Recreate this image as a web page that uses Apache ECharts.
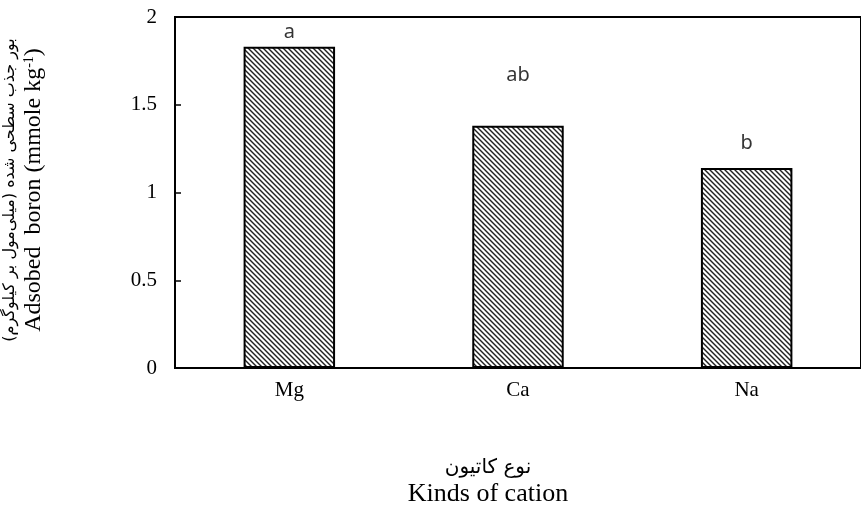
<!DOCTYPE html>
<html>
<head>
<meta charset="utf-8">
<script src="https://cdn.jsdelivr.net/npm/echarts@6/dist/echarts.min.js"></script>
<style>html,body{margin:0;padding:0;background:#fff}#c{width:861px;height:512px}</style>
</head>
<body>
<div id="c"></div>
<script>
var categories = ['Mg', 'Ca', 'Na'];
var values = [1.83, 1.38, 1.14];
var letters = ['a', 'ab', 'b'];
var letterLevels = [1.915, 1.67, 1.28];
var yTicks = [0, 0.5, 1, 1.5, 2];

function hatch() {
  var s = 5;
  var cv = document.createElement('canvas');
  cv.width = s; cv.height = s;
  var ctx = cv.getContext('2d');
  ctx.fillStyle = '#fff';
  ctx.fillRect(0, 0, s, s);
  ctx.strokeStyle = '#222';
  ctx.lineWidth = 1.4;
  for (var k = -1; k <= 1; k++) {
    ctx.beginPath();
    ctx.moveTo(k * s - 1, -1);
    ctx.lineTo(k * s + s + 1, s + 1);
    ctx.stroke();
  }
  return cv;
}

var chart = echarts.init(document.getElementById('c'), null, {renderer: 'canvas'});
var serif = '"Liberation Serif", "Times New Roman", serif';
chart.setOption({
  animation: false,
  grid: {left: 175, top: 17, right: -13, bottom: 144, show: true, borderColor: '#000', borderWidth: 2},
  xAxis: {
    type: 'category', data: categories,
    axisLine: {lineStyle: {color: '#000', width: 2}},
    axisTick: {show: false},
    axisLabel: {color: '#000', fontFamily: serif, fontSize: 21, margin: 12}
  },
  yAxis: {
    type: 'value', min: yTicks[0], max: yTicks[yTicks.length - 1], interval: 0.5,
    axisLine: {show: true, lineStyle: {color: '#000', width: 2}},
    axisTick: {show: true, inside: true, length: 6, lineStyle: {color: '#000', width: 1.5}},
    splitLine: {show: false},
    axisLabel: {color: '#000', fontFamily: serif, fontSize: 21, margin: 18}
  },
  series: [{
    type: 'bar', data: values, barWidth: '40%',
    itemStyle: {color: {image: hatch(), repeat: 'repeat'}, borderColor: '#000', borderWidth: 2}
  }, {
    type: 'scatter', data: letterLevels, symbolSize: 2, itemStyle: {color: 'rgba(0,0,0,0)'},
    label: {
      show: true, position: 'inside', color: '#000',
      fontFamily: '"Noto Sans", Lato, sans-serif', fontSize: 20,
      formatter: function (p) { return letters[p.dataIndex]; }
    }
  }],
  graphic: [
    {
      type: 'text', x: 22, y: 190, rotation: Math.PI / 2,
      style: {
        text: '{fa|بور جذب سطحی شده (میلی‌مول بر کیلوگرم)}\n{en|Adsobed  boron (mmole kg}{sup|-1}{en|)}',
        align: 'center', verticalAlign: 'middle', fill: '#000', lineHeight: 24,
        rich: {
          fa: {fontFamily: '"DejaVu Sans", sans-serif', fontSize: 16, lineHeight: 24, fill: '#000'},
          en: {fontFamily: serif, fontSize: 24, lineHeight: 24, fill: '#000'},
          sup: {fontFamily: serif, fontSize: 14, lineHeight: 24, verticalAlign: 'top', fill: '#000', padding: [0, 0, 9, 0]}
        }
      }
    },
    {
      type: 'text', x: 488, y: 468,
      style: {text: 'نوع کاتیون', font: '20px "DejaVu Sans", sans-serif', fill: '#000', align: 'center', verticalAlign: 'middle'}
    },
    {
      type: 'text', x: 488, y: 494,
      style: {text: 'Kinds of cation', font: '26px ' + serif, fill: '#000', align: 'center', verticalAlign: 'middle'}
    }
  ]
});
</script>
</body>
</html>
